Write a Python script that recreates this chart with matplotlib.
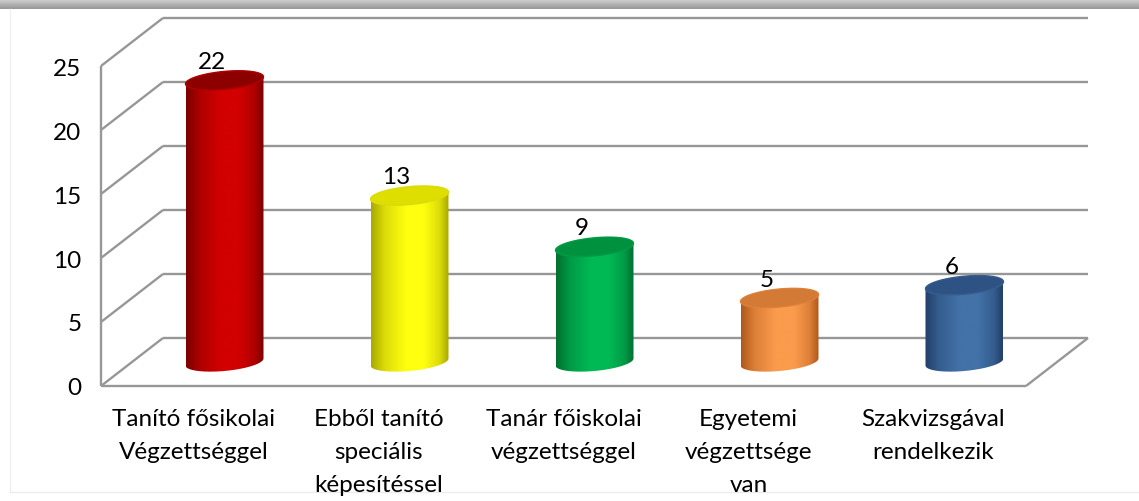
import numpy as np
import matplotlib
matplotlib.use("Agg")
import matplotlib.pyplot as plt
from matplotlib.path import Path
from matplotlib.patches import PathPatch, Polygon
from matplotlib.colors import LinearSegmentedColormap, to_rgb

plt.rcParams['font.family'] = ['Lato', 'DejaVu Sans']

# adatok
kategoriak = ["Tanító fősikolai\nVégzettséggel",
              "Ebből tanító\nspeciális\nképesítéssel",
              "Tanár főiskolai\nvégzettséggel",
              "Egyetemi\nvégzettsége\nvan",
              "Szakvizsgával\nrendelkezik"]
ertekek = [22, 13, 9, 5, 6]
y_ticks = [0, 5, 10, 15, 20, 25]

# henger színek: (sötét szél, világos közép, tető)
szinek = [("#7a0000", "#d20000", "#8c0000"),
          ("#a8a800", "#ffff10", "#dede00"),
          ("#006e30", "#00b955", "#00913f"),
          ("#b0571a", "#fb9b4c", "#d27a36"),
          ("#223f69", "#4272a8", "#2e5283")]

W, H = 1139, 502
fig = plt.figure(figsize=(W / 100, H / 100), dpi=100)

# háttér + árnyék a tetején
bg = fig.add_axes([0, 0, 1, 1])
bg.axis("off")
shadow = np.linspace(0.82, 0.6, 10).reshape(-1, 1)
bg.imshow(np.repeat(shadow, 2, axis=1), cmap="gray", vmin=0, vmax=1,
          extent=[0, W, 10, 0], aspect="auto")
bg.plot([10, 10], [10, 493], color="#f0f0f0", lw=1)
bg.plot([10, W], [493, 493], color="#ececec", lw=1)
bg.set_xlim(0, W)
bg.set_ylim(H, 0)

# a front sík pixelben: x 101..1026, y 387..67
x0, x1, y0, y1 = 101, 1026, 387, 67
ax = fig.add_axes([x0 / W, 1 - y0 / H, (x1 - x0) / W, (y0 - y1) / H])
ax.patch.set_alpha(0)
n = len(ertekek)
px_x = (x1 - x0) / n
px_y = (y0 - y1) / 25
Dx = 62 / px_x
Dy = 48 / px_y

grid_kw = dict(color="#979797", lw=1.7, clip_on=False, solid_capstyle="butt")
for v in y_ticks:
    ax.plot([-0.5, -0.5 + Dx], [v, v + Dy], **grid_kw)
    ax.plot([-0.5 + Dx, n - 0.5 + Dx], [v + Dy, v + Dy], **grid_kw)
ax.plot([-0.5, -0.5], [0, 25], **grid_kw)
ax.plot([-0.5, n - 0.5], [0, 0], **grid_kw)
ax.plot([n - 0.5, n - 0.5 + Dx], [0, Dy], **grid_kw)

a = 39 / px_x
b = 9 / px_y
s = 3.5 / px_y
t = np.linspace(0, np.pi, 80)


def keverek(c1, c2, w):
    c1, c2 = np.array(to_rgb(c1)), np.array(to_rgb(c2))
    return tuple(c1 * (1 - w) + c2 * w)


for i, (v, (dark, light, top)) in enumerate(zip(ertekek, szinek)):
    cx = i + 0.5 * Dx
    yb = 0.5 * Dy
    yt = v + 0.5 * Dy
    # test körvonala
    xs_low = cx - a * np.cos(t)
    ys_low = yb - b * np.sin(t) - s * np.cos(t)
    xs_up = cx + a * np.cos(t)
    ys_up = yt + b * np.sin(t) + s * np.cos(t)
    verts = np.concatenate([np.column_stack([xs_low, ys_low]),
                            np.column_stack([xs_up, ys_up]),
                            [[xs_low[0], ys_low[0]]]])
    patch = PathPatch(Path(verts), facecolor="none", edgecolor="none",
                      transform=ax.transData)
    ax.add_patch(patch)
    mid = keverek(dark, light, 0.6)
    cmap = LinearSegmentedColormap.from_list(
        "c%d" % i, [(0, dark), (0.18, mid), (0.45, light), (0.68, light),
                    (0.88, mid), (1, dark)])
    grad = np.linspace(0, 1, 256).reshape(1, -1)
    im = ax.imshow(grad, cmap=cmap, aspect="auto", zorder=3,
                   extent=[cx - a, cx + a, yb - b - s, yt + b + s])
    im.set_clip_path(patch)
    # tető
    tt = np.linspace(0, 2 * np.pi, 120)
    ex = cx + a * np.cos(tt)
    ey = yt + b * np.sin(tt) + s * np.cos(tt)
    ax.add_patch(Polygon(np.column_stack([ex, ey]), closed=True,
                         facecolor=top, edgecolor=mid, lw=1.0, zorder=4))
    ax.text(cx - 0.07, yt + b - 0.05, str(v), ha="center", va="bottom",
            fontsize=17.5, color="black", zorder=5)

ax.set_xlim(-0.5, n - 0.5)
ax.set_ylim(0, 25)
ax.set_xticks(range(n), kategoriak)
ax.set_yticks(y_ticks)
ax.tick_params(axis="both", length=0, labelsize=17.5)
ax.tick_params(axis="x", pad=16)
ax.tick_params(axis="y", pad=14)
for lab in ax.get_xticklabels():
    lab.set_linespacing(1.7)
for sp in ax.spines.values():
    sp.set_visible(False)

fig.savefig("out.png", dpi=100, facecolor="white")
